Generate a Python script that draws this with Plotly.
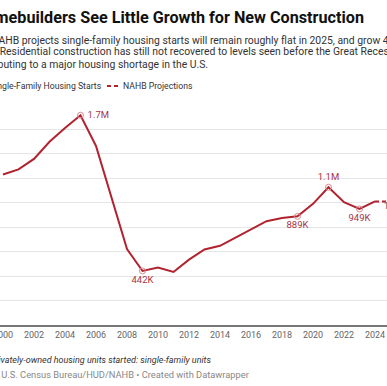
import plotly.graph_objects as go

# ---- data (thousands of units) ----
years = [2000, 2001, 2002, 2003, 2004, 2005, 2006, 2007, 2008, 2009, 2010, 2011, 2012,
         2013, 2014, 2015, 2016, 2017, 2018, 2019, 2020, 2021, 2022, 2023, 2024]
starts = [1231, 1273, 1359, 1499, 1611, 1716, 1465, 1046, 622, 442, 471, 434, 535,
          618, 648, 715, 782, 849, 876, 889, 991, 1127, 1005, 949, 1011]
proj_years = [2024, 2025, 2026]
proj_values = [1011, 1010, 1050]
label_years = [2005, 2009, 2019, 2021, 2023]
label_texts = ["1.7M", "442K", "889K", "1.1M", "949K"]
label_pos = ["middle right", "bottom center", "bottom center", "top center", "bottom center"]
tick_years = [2000, 2002, 2004, 2006, 2008, 2010, 2012, 2014, 2016, 2018, 2020, 2022, 2024]

RED = "#b0232f"
LBL = "#a8343f"
FONT = "Roboto"
W, H = 387, 386
T, B = 105, 61
PLOT_H = H - T - B

fig = go.Figure()
fig.add_trace(go.Scatter(x=years, y=[v * 1000 for v in starts], mode="lines",
                         line=dict(color=RED, width=2), hoverinfo="skip"))
fig.add_trace(go.Scatter(x=proj_years, y=[v * 1000 for v in proj_values], mode="lines",
                         line=dict(color=RED, width=2, dash="4px,3px"), hoverinfo="skip"))
lv = [starts[years.index(y)] * 1000 for y in label_years]
fig.add_trace(go.Scatter(x=label_years, y=lv, mode="markers+text",
                         marker=dict(symbol="circle-open", size=6, color="#d98a90",
                                     line=dict(width=1, color="#d98a90")),
                         text=[" " + t if p == "middle right" else t for t, p in zip(label_texts, label_pos)],
                         textposition=label_pos,
                         textfont=dict(family=FONT, size=9.5, color=LBL), hoverinfo="skip"))
fig.add_trace(go.Scatter(x=[2025], y=[proj_values[1] * 1000], mode="text",
                         text=["1M"], textposition="bottom center",
                         textfont=dict(family=FONT, size=9.5, color="#555"), hoverinfo="skip"))

def px(x):
    return x / W

def py(y):
    return (H - B - y) / PLOT_H

ann = []
def txt(x, y, s, size, color, bold=False, italic=False):
    if bold:
        s = "<b>" + s + "</b>"
    if italic:
        s = "<i>" + s + "</i>"
    ann.append(dict(x=px(x), y=py(y), xref="paper", yref="paper", text=s, showarrow=False,
                    xanchor="left", yanchor="middle",
                    font=dict(family=FONT, size=size, color=color)))

LEFT = -28
SUB = -31
txt(LEFT, 17, "Homebuilders See Little Growth for New Construction", 16.2, "#111", bold=True)
txt(SUB, 40, "The NAHB projects single-family housing starts will remain roughly flat in 2025, and grow 4% in", 10.4, "#333")
txt(SUB, 52, "2026. Residential construction has still not recovered to levels seen before the Great Recession,", 10.4, "#333")
txt(SUB, 64, "contributing to a major housing shortage in the U.S.", 10.4, "#333")
txt(-12, 86, "Single-Family Housing Starts", 8.7, "#333")
txt(121, 86, "NAHB Projections", 8.7, "#333")
txt(-12, 360, "Privately-owned housing units started: single-family units", 9, "#333", italic=True)
txt(-34, 374, "Source: U.S. Census Bureau/HUD/NAHB • Created with Datawrapper", 9.3, "#888")

shapes = [
    dict(type="line", xref="paper", yref="paper", x0=px(LEFT), x1=px(-16), y0=py(86), y1=py(86),
         line=dict(color=RED, width=2)),
    dict(type="line", xref="paper", yref="paper", x0=px(107), x1=px(118), y0=py(86), y1=py(86),
         line=dict(color=RED, width=2, dash="4px,3px")),
]

x0 = 2000 - 3 / 15.5
x1 = 2000 + (W - 3) / 15.5
fig.update_layout(
    width=W, height=H, margin=dict(l=0, r=0, t=T, b=B, autoexpand=False),
    paper_bgcolor="white", plot_bgcolor="white", showlegend=False,
    annotations=ann, shapes=shapes,
    xaxis=dict(range=[x0, x1], tickvals=tick_years, ticktext=[str(t) for t in tick_years],
               showgrid=False, zeroline=False, showline=True, linecolor="#777", linewidth=1.5,
               ticks="", tickfont=dict(family=FONT, size=9, color="#666"), automargin=False,
               ticklabeloverflow="allow", fixedrange=True),
    yaxis=dict(range=[0, 1800000], dtick=200000, showgrid=True, gridcolor="#e6e6e6", gridwidth=1,
               zeroline=False, showticklabels=False, ticks="", automargin=False, fixedrange=True),
)
fig.write_html("out.html", config={"displayModeBar": False},
               post_script="document.body.style.margin='0';document.body.style.overflow='hidden';")
